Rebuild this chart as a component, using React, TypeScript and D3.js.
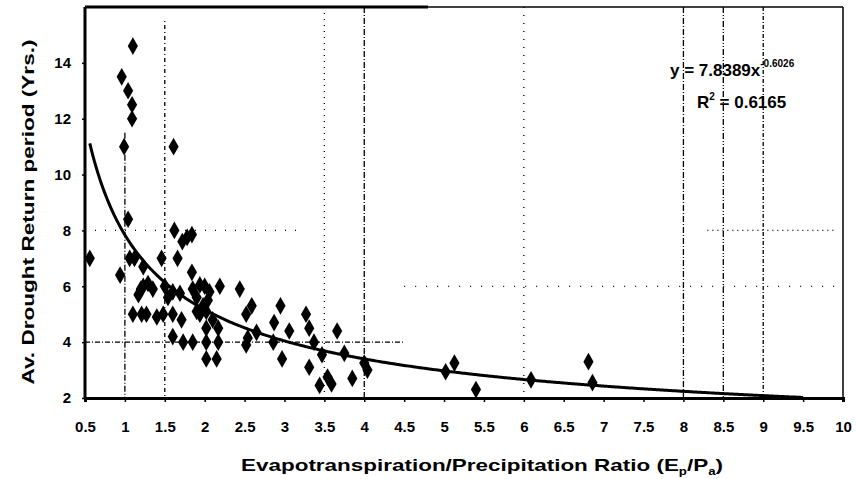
import React, { useRef, useEffect } from "react";
import * as d3 from "d3";

const width = 856;
const height = 479;
const margin = { top: 7, right: 13, bottom: 80, left: 85 };

// Ep/Pa ratio of each station
const ratioValues = [
  1.1, 0.96, 1.04, 1.09, 1.09, 0.99, 1.61,
  1.04, 1.62, 1.72, 1.78, 1.84,
  0.56, 1.06, 1.12, 1.46, 1.66, 0.94, 1.23, 1.84,
  1.17, 1.23, 1.29, 1.35, 1.5, 1.54, 1.6, 1.69, 1.85, 1.94, 2.0, 2.19, 2.44, 1.9, 2.06, 1.2,
  1.1, 1.21, 1.27, 1.4, 1.48, 1.6, 1.71, 1.9, 1.94, 2.02, 1.98, 2.04, 2.52, 2.59, 2.1,
  2.02, 2.17, 1.6, 1.73, 1.85, 2.02, 2.17, 2.02, 2.15,
  2.52, 2.54, 2.65, 2.86, 2.87, 2.95, 2.97, 3.06,
  3.27, 3.31, 3.37, 3.31, 3.47, 3.44, 3.54, 3.59, 3.66, 3.75, 3.85, 4.0, 4.04,
  5.02, 5.13, 5.4, 6.09, 6.81, 6.86,
];
// average drought return period (years)
const returnValues = [
  14.6, 13.5, 13.0, 12.5, 12.0, 11.0, 11.0,
  8.4, 8.0, 7.6, 7.75, 7.85,
  7.0, 7.0, 7.0, 7.0, 7.0, 6.4, 6.7, 6.5,
  5.7, 6.0, 6.1, 5.9, 6.0, 5.6, 5.8, 5.75, 5.9, 6.05, 6.0, 6.0, 5.9, 5.6, 5.8, 5.9,
  5.0, 5.0, 5.0, 4.9, 5.0, 5.0, 4.8, 5.1, 5.0, 5.1, 5.3, 5.5, 5.0, 5.3, 4.8,
  4.5, 4.5, 4.2, 4.0, 4.0, 4.0, 4.0, 3.4, 3.4,
  3.9, 4.15, 4.35, 4.0, 4.7, 5.3, 3.4, 4.4,
  5.0, 4.5, 4.0, 3.1, 3.55, 2.45, 2.75, 2.5, 4.4, 3.6, 2.7, 3.25, 3.0,
  2.94, 3.25, 2.3, 2.65, 3.3, 2.55,
];

const xTicks = [0.5, 1, 1.5, 2, 2.5, 3, 3.5, 4, 4.5, 5, 5.5, 6, 6.5, 7, 7.5, 8, 8.5, 9, 9.5, 10];
const yTicks = [2, 4, 6, 8, 10, 12, 14];

// power trendline y = a * x^b
const trendA = 7.8389;
const trendB = -0.6026;
const trendRange = [0.56, 9.5];

// scanned dash-dot guide lines
const vGuides = [
  { x: 1, from: 11.5, dash: "6,2,1,2" },
  { x: 1.5, from: 15.5, dash: "1,3,4,3" },
  { x: 3.5, from: 16, dash: "1,5" },
  { x: 4, from: 16, dash: "6,2,1,2" },
  { x: 6, from: 16, dash: "1,7" },
  { x: 8, from: 16, dash: "6,2,1,2" },
  { x: 8.5, from: 16, dash: "6,2,1,2,1,2" },
  { x: 9, from: 16, dash: "4,2,1,2" },
];
const hGuides = [
  { y: 4, x0: 0.5, x1: 4.5, dash: "5,2,1,2" },
  { y: 6, x0: 4.5, x1: 9.9, dash: "1,10" },
  { y: 8, x0: 0.5, x1: 3.2, dash: "1,9" },
  { y: 8, x0: 8.3, x1: 9.9, dash: "1,4" },
];

const fontFamily = "Liberation Sans, Arial, sans-serif";

const App = () => {
  const ref = useRef<SVGSVGElement>(null);

  useEffect(() => {
    const svg = d3.select(ref.current);
    svg.selectAll("*").remove();

    const x = d3.scaleLinear().domain([0.5, 10]).range([margin.left, width - margin.right]);
    const y = d3.scaleLinear().domain([2, 16]).range([height - margin.bottom - 1, margin.top]);

    const g = svg.append("g");

    // guide lines
    vGuides.forEach(v => {
      g.append("line")
        .attr("x1", x(v.x)).attr("x2", x(v.x))
        .attr("y1", y(v.from)).attr("y2", y(2))
        .attr("stroke", "#000").attr("stroke-width", 1.3)
        .attr("stroke-dasharray", v.dash);
    });
    hGuides.forEach(h => {
      g.append("line")
        .attr("x1", x(h.x0)).attr("x2", x(h.x1))
        .attr("y1", y(h.y)).attr("y2", y(h.y))
        .attr("stroke", "#000").attr("stroke-width", 1.3)
        .attr("stroke-dasharray", h.dash);
    });

    // frame
    g.append("line")
      .attr("x1", x(0.5)).attr("x2", x(4.8)).attr("y1", y(16)).attr("y2", y(16))
      .attr("stroke", "#000").attr("stroke-width", 3);
    g.append("line")
      .attr("x1", x(4.8)).attr("x2", x(10)).attr("y1", y(16)).attr("y2", y(16))
      .attr("stroke", "#000").attr("stroke-width", 1.5);
    g.append("line")
      .attr("x1", x(10)).attr("x2", x(10)).attr("y1", y(16)).attr("y2", y(2))
      .attr("stroke", "#000").attr("stroke-width", 1.5);

    // axes
    const xAxis = g.append("g")
      .attr("transform", `translate(0,${y(2)})`)
      .call(d3.axisBottom(x).tickValues(xTicks).tickSize(4).tickPadding(19)
        .tickFormat(d => String(d)));
    const yAxis = g.append("g")
      .attr("transform", `translate(${x(0.5)},0)`)
      .call(d3.axisLeft(y).tickValues(yTicks).tickSize(3).tickPadding(11)
        .tickFormat(d => String(d)));
    [xAxis, yAxis].forEach(a => {
      a.select(".domain").attr("stroke", "#000").attr("stroke-width", 3);
      a.selectAll(".tick line").attr("stroke", "#000").attr("stroke-width", 1.5);
      a.selectAll("text")
        .attr("fill", "#000")
        .style("font-family", fontFamily)
        .style("font-size", "15px")
        .style("font-weight", "bold");
    });
    yAxis.select(".domain").attr("d", `M0,${y(2)}V${y(16)}`);

    // trendline
    const curvePts = d3.range(trendRange[0], trendRange[1] + 0.001, 0.02);
    const line = d3.line<number>()
      .x(d => x(d))
      .y(d => y(trendA * Math.pow(d, trendB)))
      .curve(d3.curveMonotoneX);
    g.append("path")
      .datum(curvePts)
      .attr("d", line)
      .attr("fill", "none")
      .attr("stroke", "#000")
      .attr("stroke-width", 3);

    // points
    const symbol = d3.symbol().type(d3.symbolDiamond).size(90);
    g.selectAll(".pt")
      .data(ratioValues.map((r, i) => [r, returnValues[i]]))
      .enter()
      .append("path")
      .attr("d", symbol)
      .attr("transform", d => `translate(${x(d[0])},${y(d[1])})`)
      .attr("fill", "#000");

    // equation
    const eq = g.append("text")
      .attr("x", 670).attr("y", 76)
      .style("font-family", fontFamily)
      .style("font-size", "17px")
      .style("font-weight", "bold");
    eq.append("tspan").text("y = 7.8389x");
    eq.append("tspan").attr("dy", -9).style("font-size", "10px").text("-0.6026");
    const r2 = g.append("text")
      .attr("x", 697).attr("y", 108)
      .style("font-family", fontFamily)
      .style("font-size", "17px")
      .style("font-weight", "bold");
    r2.append("tspan").text("R");
    r2.append("tspan").attr("dy", -8).style("font-size", "10px").text("2");
    r2.append("tspan").attr("dy", 8).text(" = 0.6165");

    // axis titles
    const xt = g.append("text")
      .attr("x", 241).attr("y", 471)
      .attr("textLength", 482)
      .attr("lengthAdjust", "spacingAndGlyphs")
      .style("font-family", fontFamily)
      .style("font-size", "17px")
      .style("font-weight", "bold");
    xt.append("tspan").text("Evapotranspiration/Precipitation Ratio (E");
    xt.append("tspan").attr("dy", 4).style("font-size", "10px").text("p");
    xt.append("tspan").attr("dy", -4).text("/P");
    xt.append("tspan").attr("dy", 4).style("font-size", "10px").text("a");
    xt.append("tspan").attr("dy", -4).text(")");

    g.append("text")
      .attr("transform", "translate(34,212) rotate(-90)")
      .attr("text-anchor", "middle")
      .attr("textLength", 345)
      .attr("lengthAdjust", "spacingAndGlyphs")
      .style("font-family", fontFamily)
      .style("font-size", "17px")
      .style("font-weight", "bold")
      .text("Av. Drought Return period (Yrs.)");
  }, []);

  return (
    <div style={{ position: "absolute", left: 0, top: 0, width, height, background: "#fff" }}>
      <svg ref={ref} width={width} height={height} />
    </div>
  );
};

export default App;
